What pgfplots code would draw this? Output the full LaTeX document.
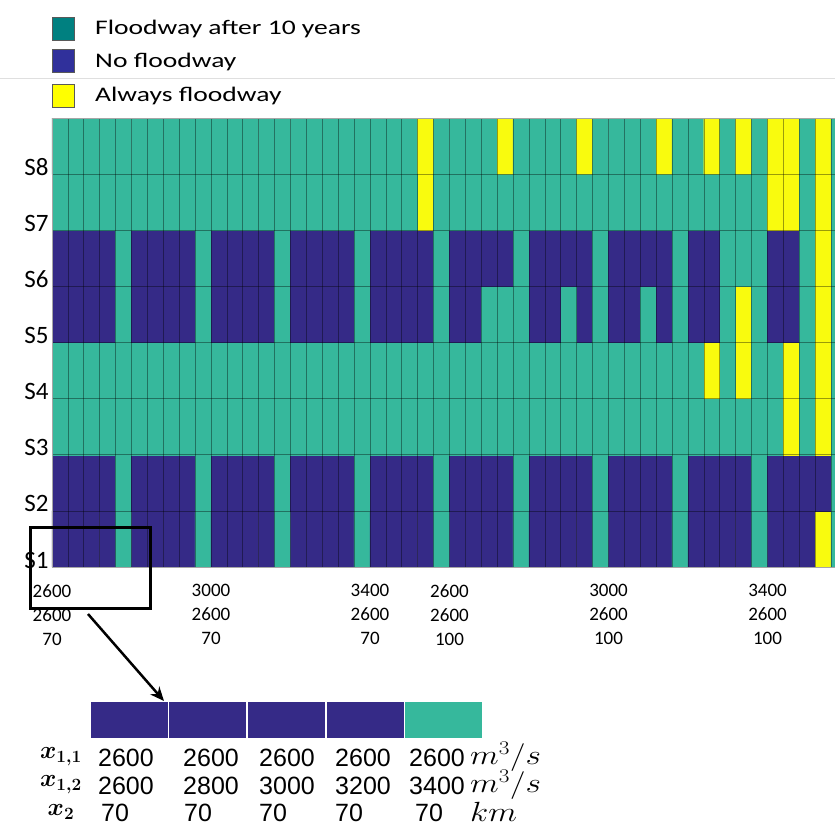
\documentclass[border=0pt]{standalone}
\usepackage{pgfplots}
\pgfplotsset{compat=1.18}
\usepackage{fontspec}
\usepackage{bm}
\setmainfont{Carlito}
\newfontfamily\arialf{Liberation Sans}
\usetikzlibrary{arrows.meta}
\definecolor{pblue}{RGB}{53,42,135}
\definecolor{pgreen}{RGB}{54,184,156}
\definecolor{pyellow}{RGB}{249,251,14}
\definecolor{lteal}{RGB}{0,128,128}
\definecolor{lblue}{RGB}{48,48,155}
\definecolor{lyellow}{RGB}{255,255,0}
\begin{document}
\begin{tikzpicture}
\useasboundingbox (0,0) rectangle (835bp,-827bp);
\begin{axis}[at={(52bp,-567bp)}, anchor=south west,
  width=783bp, height=449bp, scale only axis,
  xmin=-0.5, xmax=48.745, ymin=-0.5, ymax=7.5,
  colormap={fw}{rgb255(0)=(53,42,135) rgb255(1)=(54,184,156) rgb255(2)=(249,251,14)},
  point meta min=0, point meta max=2,
  xtick={-0.5,9.5,19.5,24.5,34.5,44.5},
  xticklabels={{2600\\2600\\70},{3000\\2600\\70},{3400\\2600\\70},{2600\\2600\\100},{3000\\2600\\100},{3400\\2600\\100}},
  xticklabel style={align=center, font=\fontsize{19bp}{24bp}\selectfont, yshift=-14bp},
  ytick={-0.5,0.5,1.5,2.5,3.5,4.5,5.5,6.5},
  yticklabels={S1,S2,S3,S4,S5,S6,S7,S8},
  yticklabel style={font=\fontsize{25bp}{30bp}\selectfont, yshift=7bp},
  major tick length=0pt, minor tick length=0pt,
  minor xtick={-0.5,0.5,...,49.5}, minor ytick={-0.5,0.5,...,7.5},
  xminorgrids=true, yminorgrids=true,
  minor grid style={black, opacity=0.38, line width=0.7bp},
  axis on top,
  axis line style={draw=gray!70},
]
\addplot[matrix plot*, mesh/cols=50, point meta=explicit, draw=none]
table[row sep=\\, meta=c] {
x y c\\
0 0 0\\1 0 0\\2 0 0\\3 0 0\\4 0 1\\5 0 0\\6 0 0\\7 0 0\\8 0 0\\9 0 1\\
10 0 0\\11 0 0\\12 0 0\\13 0 0\\14 0 1\\15 0 0\\16 0 0\\17 0 0\\18 0 0\\19 0 1\\
20 0 0\\21 0 0\\22 0 0\\23 0 0\\24 0 1\\25 0 0\\26 0 0\\27 0 0\\28 0 0\\29 0 1\\
30 0 0\\31 0 0\\32 0 0\\33 0 0\\34 0 1\\35 0 0\\36 0 0\\37 0 0\\38 0 0\\39 0 1\\
40 0 0\\41 0 0\\42 0 0\\43 0 0\\44 0 1\\45 0 0\\46 0 0\\47 0 0\\48 0 2\\49 0 1\\
0 1 0\\1 1 0\\2 1 0\\3 1 0\\4 1 1\\5 1 0\\6 1 0\\7 1 0\\8 1 0\\9 1 1\\
10 1 0\\11 1 0\\12 1 0\\13 1 0\\14 1 1\\15 1 0\\16 1 0\\17 1 0\\18 1 0\\19 1 1\\
20 1 0\\21 1 0\\22 1 0\\23 1 0\\24 1 1\\25 1 0\\26 1 0\\27 1 0\\28 1 0\\29 1 1\\
30 1 0\\31 1 0\\32 1 0\\33 1 0\\34 1 1\\35 1 0\\36 1 0\\37 1 0\\38 1 0\\39 1 1\\
40 1 0\\41 1 0\\42 1 0\\43 1 0\\44 1 1\\45 1 0\\46 1 0\\47 1 0\\48 1 0\\49 1 1\\
0 2 1\\1 2 1\\2 2 1\\3 2 1\\4 2 1\\5 2 1\\6 2 1\\7 2 1\\8 2 1\\9 2 1\\
10 2 1\\11 2 1\\12 2 1\\13 2 1\\14 2 1\\15 2 1\\16 2 1\\17 2 1\\18 2 1\\19 2 1\\
20 2 1\\21 2 1\\22 2 1\\23 2 1\\24 2 1\\25 2 1\\26 2 1\\27 2 1\\28 2 1\\29 2 1\\
30 2 1\\31 2 1\\32 2 1\\33 2 1\\34 2 1\\35 2 1\\36 2 1\\37 2 1\\38 2 1\\39 2 1\\
40 2 1\\41 2 1\\42 2 1\\43 2 1\\44 2 1\\45 2 1\\46 2 2\\47 2 1\\48 2 2\\49 2 1\\
0 3 1\\1 3 1\\2 3 1\\3 3 1\\4 3 1\\5 3 1\\6 3 1\\7 3 1\\8 3 1\\9 3 1\\
10 3 1\\11 3 1\\12 3 1\\13 3 1\\14 3 1\\15 3 1\\16 3 1\\17 3 1\\18 3 1\\19 3 1\\
20 3 1\\21 3 1\\22 3 1\\23 3 1\\24 3 1\\25 3 1\\26 3 1\\27 3 1\\28 3 1\\29 3 1\\
30 3 1\\31 3 1\\32 3 1\\33 3 1\\34 3 1\\35 3 1\\36 3 1\\37 3 1\\38 3 1\\39 3 1\\
40 3 1\\41 3 2\\42 3 1\\43 3 2\\44 3 1\\45 3 1\\46 3 2\\47 3 1\\48 3 2\\49 3 1\\
0 4 0\\1 4 0\\2 4 0\\3 4 0\\4 4 1\\5 4 0\\6 4 0\\7 4 0\\8 4 0\\9 4 1\\
10 4 0\\11 4 0\\12 4 0\\13 4 0\\14 4 1\\15 4 0\\16 4 0\\17 4 0\\18 4 0\\19 4 1\\
20 4 0\\21 4 0\\22 4 0\\23 4 0\\24 4 1\\25 4 0\\26 4 0\\27 4 1\\28 4 1\\29 4 1\\
30 4 0\\31 4 0\\32 4 1\\33 4 0\\34 4 1\\35 4 0\\36 4 0\\37 4 1\\38 4 0\\39 4 1\\
40 4 0\\41 4 0\\42 4 1\\43 4 2\\44 4 1\\45 4 0\\46 4 0\\47 4 1\\48 4 2\\49 4 1\\
0 5 0\\1 5 0\\2 5 0\\3 5 0\\4 5 1\\5 5 0\\6 5 0\\7 5 0\\8 5 0\\9 5 1\\
10 5 0\\11 5 0\\12 5 0\\13 5 0\\14 5 1\\15 5 0\\16 5 0\\17 5 0\\18 5 0\\19 5 1\\
20 5 0\\21 5 0\\22 5 0\\23 5 0\\24 5 1\\25 5 0\\26 5 0\\27 5 0\\28 5 0\\29 5 1\\
30 5 0\\31 5 0\\32 5 0\\33 5 0\\34 5 1\\35 5 0\\36 5 0\\37 5 0\\38 5 0\\39 5 1\\
40 5 0\\41 5 0\\42 5 1\\43 5 1\\44 5 1\\45 5 0\\46 5 0\\47 5 1\\48 5 2\\49 5 1\\
0 6 1\\1 6 1\\2 6 1\\3 6 1\\4 6 1\\5 6 1\\6 6 1\\7 6 1\\8 6 1\\9 6 1\\
10 6 1\\11 6 1\\12 6 1\\13 6 1\\14 6 1\\15 6 1\\16 6 1\\17 6 1\\18 6 1\\19 6 1\\
20 6 1\\21 6 1\\22 6 1\\23 6 2\\24 6 1\\25 6 1\\26 6 1\\27 6 1\\28 6 1\\29 6 1\\
30 6 1\\31 6 1\\32 6 1\\33 6 1\\34 6 1\\35 6 1\\36 6 1\\37 6 1\\38 6 1\\39 6 1\\
40 6 1\\41 6 1\\42 6 1\\43 6 1\\44 6 1\\45 6 2\\46 6 2\\47 6 1\\48 6 2\\49 6 1\\
0 7 1\\1 7 1\\2 7 1\\3 7 1\\4 7 1\\5 7 1\\6 7 1\\7 7 1\\8 7 1\\9 7 1\\
10 7 1\\11 7 1\\12 7 1\\13 7 1\\14 7 1\\15 7 1\\16 7 1\\17 7 1\\18 7 1\\19 7 1\\
20 7 1\\21 7 1\\22 7 1\\23 7 2\\24 7 1\\25 7 1\\26 7 1\\27 7 1\\28 7 2\\29 7 1\\
30 7 1\\31 7 1\\32 7 1\\33 7 2\\34 7 1\\35 7 1\\36 7 1\\37 7 1\\38 7 2\\39 7 1\\
40 7 1\\41 7 2\\42 7 1\\43 7 2\\44 7 1\\45 7 2\\46 7 2\\47 7 1\\48 7 2\\49 7 1\\
};
\end{axis}
% inset cells
\begin{axis}[at={(90bp,-739bp)}, anchor=south west,
  width=393bp, height=38bp, scale only axis,
  xmin=-0.5, xmax=4.5, ymin=0, ymax=1, hide axis, clip=false]
\addplot[ybar, bar width=78.6bp, bar shift=0pt, fill=pblue, draw=white, line width=1.6bp] coordinates {(0,1) (1,1) (2,1) (3,1)};
\addplot[ybar, bar width=78.6bp, bar shift=0pt, fill=pgreen, draw=white, line width=1.6bp] coordinates {(4,1)};
\end{axis}
\begin{scope}[x=1bp, y=-1bp]
% legend
\draw[gray!25, line width=1bp] (0,78) -- (835,78);
\filldraw[fill=lteal, draw=black!65, line width=1bp] (52,17) rectangle (74,40);
\filldraw[fill=lblue, draw=black!65, line width=1bp] (52,49) rectangle (74,72);
\filldraw[fill=lyellow, draw=black!65, line width=1bp] (52,84) rectangle (74,107);
\node[anchor=west, inner sep=0pt] at (95,29) {\scalebox{1.49}[1.12]{\fontsize{18.5bp}{20bp}\selectfont Floodway after 10 years}};
\node[anchor=west, inner sep=0pt] at (95,62) {\scalebox{1.49}[1.12]{\fontsize{18.5bp}{20bp}\selectfont No floodway}};
\node[anchor=west, inner sep=0pt] at (95,96) {\scalebox{1.49}[1.12]{\fontsize{18.5bp}{20bp}\selectfont Always floodway}};
% zoom box and arrow
\draw[black, line width=3bp] (30,527) rectangle (150,608);
\draw[black, line width=2.5bp, -{Stealth[length=14bp, width=12bp]}] (88,614) -- (164,701);
% inset labels
\node at (61,757) {\fontsize{25bp}{28bp}\selectfont $\bm{x}_{\bm{1,1}}$};
\node at (61,785) {\fontsize{25bp}{28bp}\selectfont $\bm{x}_{\bm{1,2}}$};
\node at (61,812) {\fontsize{25bp}{28bp}\selectfont $\bm{x}_{\bm{2}}$};
\foreach \xx in {98,183,259,335,409} {
  \node[anchor=west, inner sep=0pt] at (\xx,758) {\arialf\fontsize{25bp}{28bp}\selectfont 2600};
}
\node[anchor=west, inner sep=0pt] at (98,786) {\arialf\fontsize{25bp}{28bp}\selectfont 2600};
\node[anchor=west, inner sep=0pt] at (183,786) {\arialf\fontsize{25bp}{28bp}\selectfont 2800};
\node[anchor=west, inner sep=0pt] at (259,786) {\arialf\fontsize{25bp}{28bp}\selectfont 3000};
\node[anchor=west, inner sep=0pt] at (335,786) {\arialf\fontsize{25bp}{28bp}\selectfont 3200};
\node[anchor=west, inner sep=0pt] at (409,786) {\arialf\fontsize{25bp}{28bp}\selectfont 3400};
\foreach \xx in {101,184,259,335,415} {
  \node[anchor=west, inner sep=0pt] at (\xx,813) {\arialf\fontsize{25bp}{28bp}\selectfont 70};
}
\node[anchor=west, inner sep=0pt] at (470,757) {\scalebox{1.35}[1.12]{\fontsize{24bp}{28bp}\selectfont $m^3/s$}};
\node[anchor=west, inner sep=0pt] at (470,785) {\scalebox{1.35}[1.12]{\fontsize{24bp}{28bp}\selectfont $m^3/s$}};
\node[anchor=west, inner sep=0pt] at (470,812) {\scalebox{1.35}[1.12]{\fontsize{24bp}{28bp}\selectfont $km$}};
\end{scope}
\end{tikzpicture}
\end{document}
